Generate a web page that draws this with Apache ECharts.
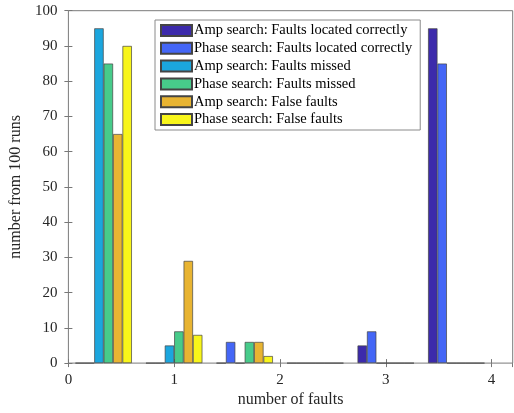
<!DOCTYPE html>
<html><head><meta charset="utf-8">
<script src="https://cdn.jsdelivr.net/npm/echarts@6/dist/echarts.min.js"></script>
<style>html,body{margin:0;padding:0;background:#fff}#c{width:514px;height:413px}</style>
</head><body><div id="c"></div><script>
// group centres along the x axis (number of faults scale)
const groupX = [1/3, 1, 5/3, 7/3, 3, 11/3];
const seriesNames = [
  'Amp search: Faults located correctly',
  'Phase search: Faults located correctly',
  'Amp search: Faults missed',
  'Phase search: Faults missed',
  'Amp search: False faults',
  'Phase search: False faults'
];
const ampCorrect   = [0, 0, 0, 0, 5, 95];
const phaseCorrect = [0, 0, 6, 0, 9, 85];
const ampMissed    = [95, 5, 0, 0, 0, 0];
const phaseMissed  = [85, 9, 6, 0, 0, 0];
const ampFalse     = [65, 29, 6, 0, 0, 0];
const phaseFalse   = [90, 8, 2, 0, 0, 0];
const xTicks = [0, 1, 2, 3, 4];
const yTicks = [0, 10, 20, 30, 40, 50, 60, 70, 80, 90, 100];

const seriesValues = [ampCorrect, phaseCorrect, ampMissed, phaseMissed, ampFalse, phaseFalse];
const colors = ['#3C2AAB', '#4466F6', '#1BA6DE', '#47CB8A', '#E8B432', '#F8F51A'];
const font = 'Liberation Serif';

const chart = echarts.init(document.getElementById('c'), null, {renderer: 'canvas'});
const xMin = xTicks[0], xMax = 4.2;
const yMin = yTicks[0], yMax = yTicks[yTicks.length - 1];
const tickInterval = xTicks[1] - xTicks[0];
const yInterval = yTicks[1] - yTicks[0];

const axisText = {fontFamily: font, fontSize: 15, color: '#262626'};
const tickStyle = {show: true, inside: true, length: 4, lineStyle: {color: '#777', width: 1}};

chart.setOption({
  animation: false,
  backgroundColor: '#fff',
  grid: {left: 64, right: 1.3, top: 10.7, bottom: 48.3, show: true, borderColor: '#7a7a7a', borderWidth: 1, backgroundColor: 'transparent'},
  legend: {
    orient: 'vertical', left: 155, top: 20,
    itemWidth: 31, itemHeight: 11, itemGap: 2.8,
    padding: [3, 8, 3, 5],
    borderColor: '#8a8a8a', borderWidth: 1, backgroundColor: '#fff',
    icon: 'rect',
    textStyle: {fontFamily: font, fontSize: 14.5, color: '#000', padding: [0, 0, 0, -3]},
    data: seriesNames
  },
  xAxis: [
    {type: 'value', min: xMin, max: xMax, interval: tickInterval, position: 'bottom',
     axisLine: {show: false}, splitLine: {show: false}, axisTick: tickStyle,
     axisLabel: Object.assign({margin: 9, showMaxLabel: false}, axisText),
     name: 'number of faults', nameLocation: 'middle', nameGap: 27,
     nameTextStyle: {fontFamily: font, fontSize: 16, color: '#262626'}},
    {type: 'value', min: xMin, max: xMax, interval: tickInterval, position: 'top',
     axisLine: {show: false}, splitLine: {show: false}, axisTick: tickStyle, axisLabel: {show: false}}
  ],
  yAxis: [
    {type: 'value', min: yMin, max: yMax, interval: yInterval, position: 'left',
     axisLine: {show: false}, splitLine: {show: false}, axisTick: tickStyle,
     axisLabel: Object.assign({margin: 11}, axisText),
     name: 'number from 100 runs', nameLocation: 'middle', nameGap: 36,
     nameTextStyle: {fontFamily: font, fontSize: 16, color: '#262626'}},
    {type: 'value', min: yMin, max: yMax, interval: yInterval, position: 'right',
     axisLine: {show: false}, splitLine: {show: false}, axisTick: tickStyle, axisLabel: {show: false}}
  ],
  series: seriesNames.map((name, i) => ({
    name: name, type: 'bar', xAxisIndex: 0, yAxisIndex: 0,
    barGap: '0%', barCategoryGap: '20%',
    itemStyle: {color: colors[i], borderColor: '#444', borderWidth: 0.7},
    emphasis: {disabled: true},
    data: groupX.map((x, j) => [x, seriesValues[i][j]])
  }))
});
</script></body></html>
